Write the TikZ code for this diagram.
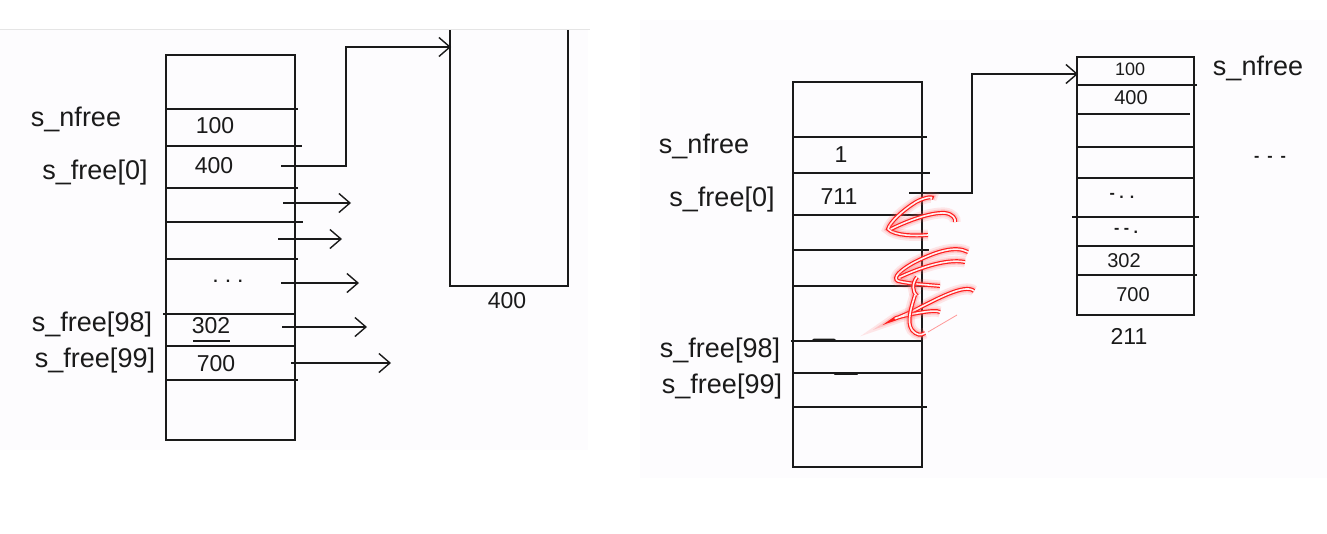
\documentclass[tikz,border=0pt]{standalone}
\usepackage{fontspec}
\setmainfont{Liberation Sans}
\usetikzlibrary{arrows.meta}
\definecolor{panelbg}{HTML}{FDFCFE}
\definecolor{ink}{HTML}{1A1A1A}
\begin{document}
\begin{tikzpicture}[x=1pt,y=-1pt,
  ink/.style={draw=ink,line width=1.6pt},
  arr/.style={ink,-{Straight Barb[length=11pt,width=19pt,line width=1.4pt]}},
  lbl/.style={font=\fontsize{27}{27}\selectfont,text=ink,inner sep=0pt},
  val/.style={font=\fontsize{23}{23}\selectfont,text=ink,inner sep=0pt},
  smallval/.style={font=\fontsize{16}{16}\selectfont\bfseries,text=ink,inner sep=0pt},
  scrib/.style={line cap=round,line join=round,
    preaction={draw,red!60,line width=11pt,opacity=0.15},
    preaction={draw,red!60,line width=7pt,opacity=0.25},
    preaction={draw,red!85!pink,line width=4pt},
    draw=pink!20!white,line width=1.6pt}]
\useasboundingbox (0,0) rectangle (1327,533);
\fill[white] (0,0) rectangle (1327,533);
\fill[panelbg] (0,30) rectangle (588,450);
\fill[panelbg] (640,20) rectangle (1327,478);
\draw[gray!20,line width=1pt] (0,29) -- (590,29);

% ---------- left panel ----------
\node[ink,rectangle,anchor=north west,minimum width=129pt,minimum height=385pt,inner sep=0pt] (LT) at (165,54) {};
\draw[ink] (165,109) -- (298,109);
\draw[ink] (165,146) -- (302,146);
\draw[ink] (165,188) -- (298,188);
\draw[ink] (165,222) -- (303,222);
\draw[ink] (165,259) -- (298,259);
\draw[ink] (163,314) -- (295,314);
\draw[ink] (165,346) -- (295,346);
\draw[ink] (165,380) -- (298,380);

\node[lbl] (ln1) at (76,119) {s\_nfree};
\node[lbl] (ln2) at (95,173) {s\_free[0]};
\node[lbl] (ln3) at (92,325) {s\_free[98]};
\node[lbl] (ln4) at (95,361) {s\_free[99]};

\node[val] (lv1) at (215,126) {100};
\node[val] (lv2) at (214,166) {400};
\node[smallval] (lv3) at (228,281) {.\enspace.\enspace.};
\node[val] (lv4) at (211,326) {302};
\draw[ink] (193,341) -- (230,341);
\node[val] (lv5) at (216,364) {700};

% big block
\draw[ink] (450,30) -- (450,286) -- (568,286) -- (568,30);
\coordinate (bbin) at (451,47);
\node[val] (bbl) at (507,301) {400};

\coordinate (la0) at (281,166);
\draw[arr] (la0) -- ++(65,0) |- (bbin);
\coordinate (ls1) at (283,203); \coordinate (le1) at (351,203);
\coordinate (ls2) at (278,239); \coordinate (le2) at (342,239);
\coordinate (ls3) at (281,283); \coordinate (le3) at (359,283);
\coordinate (ls4) at (282,327); \coordinate (le4) at (367,327);
\coordinate (ls5) at (291,363); \coordinate (le5) at (391,363);
\foreach \i in {1,...,5} \draw[arr] (ls\i) -- (le\i);

% ---------- right panel ----------
\node[ink,rectangle,anchor=north west,minimum width=129pt,minimum height=385pt,inner sep=0pt] (RT) at (792,81) {};
\draw[ink] (792,137) -- (927,137);
\draw[ink] (792,173) -- (930,173);
\draw[ink] (792,215) -- (927,215);
\draw[ink] (792,250) -- (929,250);
\draw[ink] (792,286) -- (925,286);
\draw[ink] (791,341) -- (921,341);
\draw[ink] (792,373) -- (921,373);
\draw[ink] (792,407) -- (927,407);
\draw[ink] (812,341) -- (814,339.5) -- (834,339.5) -- (836,341);
\draw[ink,line width=2.4pt,line cap=round] (835,374) -- (857,374);

\node[lbl] (rn1) at (704,146) {s\_nfree};
\node[lbl] (rn2) at (722,200) {s\_free[0]};
\node[lbl] (rn3) at (720,351) {s\_free[98]};
\node[lbl] (rn4) at (722,387) {s\_free[99]};

\node[val] (rv1) at (841,155) {1};
\node[val] (rv2) at (839,197) {711};

% new block
\node[ink,rectangle,anchor=north west,minimum width=117pt,minimum height=258pt,inner sep=0pt] (RB) at (1076,56) {};
\draw[ink] (1076,85) -- (1197,85);
\draw[ink] (1076,114) -- (1190,114);
\draw[ink] (1076,147) -- (1193,147);
\draw[ink] (1076,178) -- (1193,178);
\draw[ink] (1072,217) -- (1199,217);
\draw[ink] (1076,246) -- (1193,246);
\draw[ink] (1076,275) -- (1197,275);

\node[val,font=\fontsize{18}{18}\selectfont] (bv1) at (1130,69) {100};
\node[val,font=\fontsize{20}{20}\selectfont] (bv2) at (1131,98) {400};
\node[smallval] (bv3) at (1122,196) {- . .};
\node[smallval] (bv4) at (1126,231) {- - .};
\node[val,font=\fontsize{20}{20}\selectfont] (bv5) at (1124,261) {302};
\node[val,font=\fontsize{20}{20}\selectfont] (bv6) at (1133,295) {700};
\node[val] (bbl2) at (1129,336) {211};
\node[lbl] (rn5) at (1258,68) {s\_nfree};
\node[smallval] (rdots) at (1270,159) {-\enspace -\enspace -};

\coordinate (ra0) at (909,193);
\coordinate (rbin) at (1078,74);
\draw[arr] (ra0) -- ++(63,0) |- (rbin);

% red scribble
\draw[scrib] (931,199) .. controls (935,196) and (925,197) .. (916,202)
   .. controls (903,210) and (890,222) .. (888,229)
   .. controls (895,236) and (915,236) .. (928,235);
\draw[scrib] (891,229) .. controls (905,222) and (930,212) .. (945,213)
   .. controls (953,214) and (956,219) .. (955,222);
\draw[scrib] (968,252) .. controls (955,245) and (935,252) .. (915,262)
   .. controls (900,270) and (892,278) .. (898,281)
   .. controls (910,284) and (930,285) .. (940,286);
\draw[scrib] (900,277) .. controls (915,270) and (945,258) .. (965,262);
\draw[scrib] (917,277) .. controls (912,283) and (912,292) .. (917,296);
\draw[scrib] (974,291) .. controls (965,283) and (935,300) .. (915,310)
   .. controls (900,317) and (892,320) .. (896,318)
   .. controls (910,314) and (935,309) .. (940,312);
\draw[scrib] (915,295) .. controls (912,305) and (906,322) .. (912,330)
   .. controls (916,335) and (921,336) .. (925,333);
\draw[pink!80!red,line width=0.8pt] (928,332) -- (957,315);
\end{tikzpicture}
\end{document}
